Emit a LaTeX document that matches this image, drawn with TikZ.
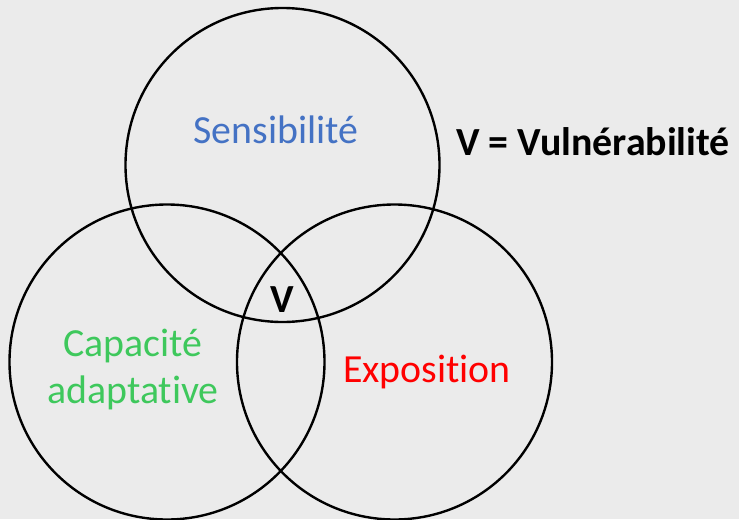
\documentclass[tikz,border=0pt]{standalone}
\usepackage{fontspec}
\setmainfont{Carlito}[RawFeature={-liga;-clig;-calt;-dlig}]
\definecolor{bgcol}{RGB}{235,235,235}
\definecolor{sensblue}{RGB}{68,114,196}
\definecolor{capgreen}{RGB}{62,200,92}
\definecolor{expred}{RGB}{255,0,0}
\begin{document}
\begin{tikzpicture}[scale=0.2646]
\tikzstyle{every node}+=[inner sep=0pt]
\tikzstyle{label}=[font=\fontsize{30}{35.25}\selectfont, anchor=base, align=center]
\tikzstyle{ring}=[black, line width=1.8pt]
\fill [bgcol] (0,0) rectangle (73.9,-51.9);
\useasboundingbox (0,0) rectangle (73.9,-51.9);
\draw [ring] (28.25,-16.5) circle (15.7);
\draw [ring] (16.7,-36.2) circle (15.75);
\draw [ring] (39.45,-36.2) circle (15.75);
\node [label, text=sensblue] (sens) at (27.6,-14.3) {Sensibilité};
\node [label, text=capgreen] (cap) at (13.3,-40.3) {Capacité\\adaptative};
\node [label, text=expred] (expo) at (42.7,-38.2) {Exposition};
\node [label, font=\fontsize{30}{35.25}\selectfont\bfseries] (v) at (28.2,-31.2) {V};
\node [label, anchor=base west, font=\fontsize{30}{35.25}\selectfont\bfseries] (vdef) at (45.6,-15.5) {V = Vulnérabilité};
\end{tikzpicture}
\end{document}
